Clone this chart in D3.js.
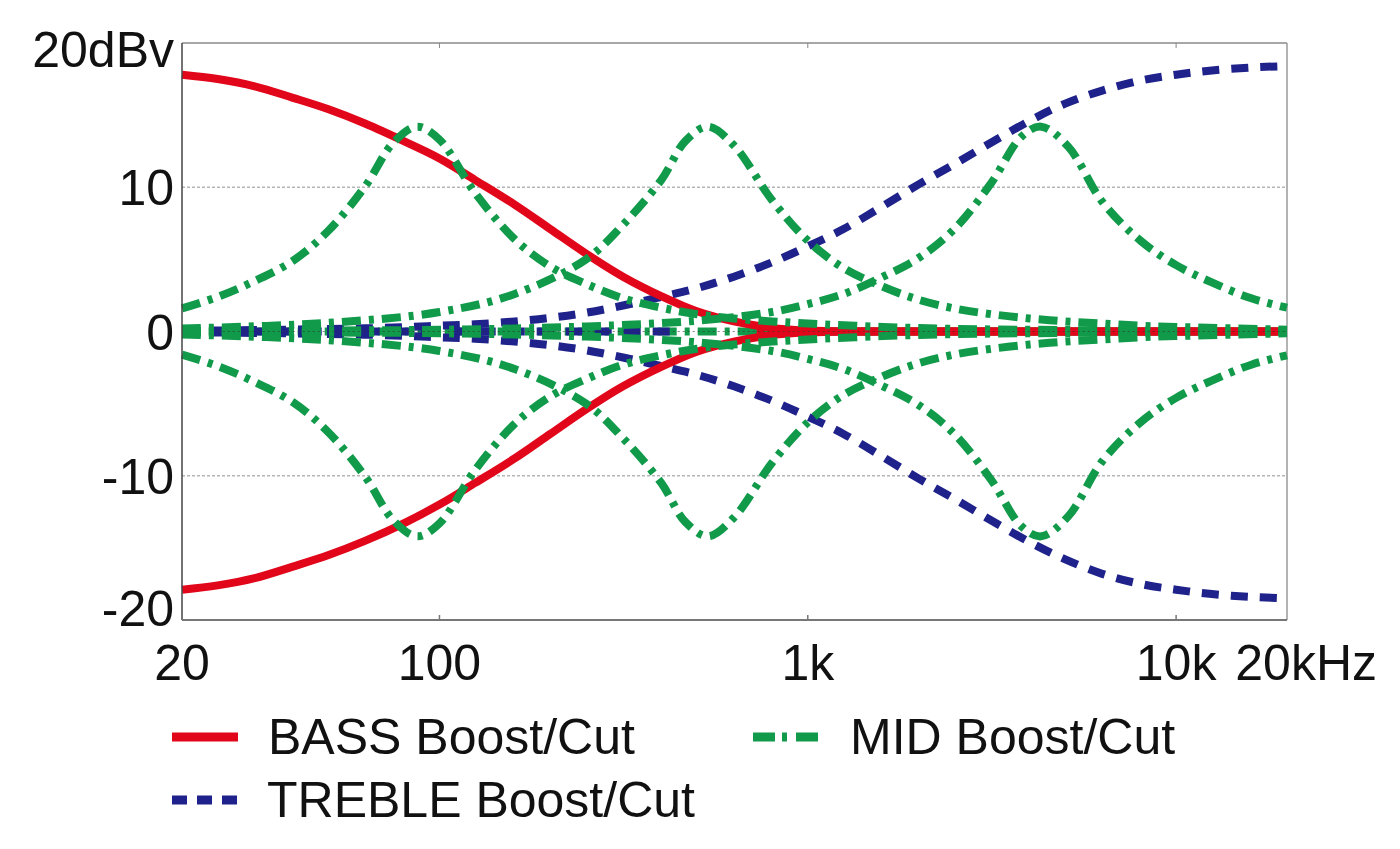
<!DOCTYPE html>
<html>
<head>
<meta charset="utf-8">
<script src="https://cdn.jsdelivr.net/npm/d3@7"></script>
<style>
  body { margin: 0; background: #fff; }
  text { font-family: "Liberation Sans", Arial, Helvetica, sans-serif; fill: #111; }
</style>
</head>
<body>
<div id="chart"></div>
<script>
// 1/3-octave grid used for BASS and TREBLE
const freqs = [20, 25, 31.5, 40, 50, 63, 80, 100, 125, 160, 200, 250, 315, 400, 500, 630, 800,
  1000, 1250, 1600, 2000, 2500, 3150, 4000, 5000, 6300, 8000, 10000, 12500, 16000, 20000];

const bassBoost = [17.8, 17.5, 17.0, 16.2, 15.4, 14.4, 13.2, 12.0, 10.5, 8.8, 7.1, 5.4, 3.8, 2.45, 1.4, 0.7, 0.25,
  0.07, 0, 0, 0, 0, 0, 0, 0, 0, 0, 0, 0, 0, 0];
const bassCut = [-17.9, -17.6, -17.1, -16.3, -15.5, -14.5, -13.3, -12.0, -10.5, -8.8, -7.1, -5.4, -3.8, -2.45, -1.4, -0.7, -0.25,
  -0.07, 0, 0, 0, 0, 0, 0, 0, 0, 0, 0, 0, 0, 0];

const trebleBoost = [0.05, 0.07, 0.1, 0.13, 0.17, 0.22, 0.3, 0.4, 0.5, 0.7, 0.95, 1.3, 1.8, 2.4, 3.0, 3.8, 4.8,
  5.9, 7.1, 8.7, 10.2, 11.6, 13.1, 14.6, 15.8, 16.7, 17.4, 17.8, 18.1, 18.3, 18.4];
const trebleCut = [-0.05, -0.07, -0.1, -0.13, -0.17, -0.22, -0.3, -0.4, -0.5, -0.7, -0.95, -1.3, -1.8, -2.4, -3.0, -3.8, -4.8,
  -5.9, -7.1, -8.7, -10.2, -11.6, -13.1, -14.6, -15.8, -16.8, -17.5, -17.9, -18.2, -18.4, -18.5];

// MID, three centre frequencies
const mid1Freqs = [20, 25, 31.5, 40, 50, 63, 75, 87, 100, 125, 160, 200, 250, 315, 400, 500, 630, 800, 1000, 1600, 2500, 4000, 6300, 10000, 20000];
const mid1Boost = [1.6, 2.4, 3.5, 4.9, 7.0, 10.1, 13.1, 14.2, 13.3, 9.6, 6.4, 4.5, 3.3, 2.3, 1.65, 1.2, 0.9, 0.7, 0.55, 0.32, 0.18, 0.12, 0.08, 0.05, 0.03];
const mid1Cut = [-1.6, -2.4, -3.5, -4.9, -7.0, -10.1, -13.1, -14.2, -13.3, -9.6, -6.4, -4.5, -3.3, -2.3, -1.65, -1.2, -0.9, -0.7, -0.55, -0.32, -0.18, -0.12, -0.08, -0.05, -0.03];

const mid2Freqs = [20, 50, 100, 160, 250, 315, 400, 465, 536, 630, 800, 1000, 1250, 1600, 2000, 2500, 3150, 4000, 5000, 6300, 8000, 10000, 20000];
const mid2Boost = [0.2, 0.6, 1.35, 2.6, 5.0, 7.4, 10.5, 13.2, 14.2, 12.9, 9.1, 6.3, 4.4, 3.1, 2.2, 1.6, 1.2, 0.9, 0.7, 0.55, 0.4, 0.32, 0.12];
const mid2Cut = [-0.2, -0.6, -1.35, -2.6, -5.0, -7.4, -10.5, -13.2, -14.2, -12.9, -9.1, -6.3, -4.4, -3.1, -2.2, -1.6, -1.2, -0.9, -0.7, -0.55, -0.4, -0.32, -0.12];

const mid3Freqs = [20, 100, 250, 500, 800, 1000, 1250, 1600, 2000, 2500, 3150, 3800, 4300, 5100, 6300, 8000, 10000, 12500, 16000, 20000];
const mid3Boost = [0.05, 0.12, 0.35, 0.75, 1.35, 1.9, 2.6, 3.8, 5.1, 7.1, 10.3, 13.5, 14.2, 12.8, 9.0, 6.3, 4.6, 3.4, 2.3, 1.65];
const mid3Cut = [-0.05, -0.12, -0.35, -0.75, -1.35, -1.9, -2.6, -3.8, -5.1, -7.1, -10.3, -13.5, -14.2, -12.8, -9.0, -6.3, -4.6, -3.4, -2.3, -1.65];

// flat (0 dB) settings, frequency spans where they show
const flatBlue = [25, 450];
const flatRed = [700, 20000];
const flatGreen = [25, 20000];

// ticks
const xTicks = [20, 100, 1000, 10000, 20000];
const xTickLabels = ["20", "100", "1k", "10k", "20kHz"];
const yTicks = [20, 10, 0, -10, -20];
const yTickLabels = ["20dBv", "10", "0", "-10", "-20"];
const gridValues = [10, -10];

const legendItems = ["BASS Boost/Cut", "MID Boost/Cut", "TREBLE Boost/Cut"];

// colours and strokes
const RED = "#e2061b", BLUE = "#1e228a", GREEN = "#109a4a";
const DASH = "17,12";
const DASHDOT = "19,8,5,8";
const LW = 8;
const FONT = "50px";

const W = 1400, H = 849;
const margin = { top: 43, right: 113, bottom: 229, left: 182 };
const width = W - margin.left - margin.right;
const height = H - margin.top - margin.bottom;

const root = d3.select("#chart").append("svg")
    .attr("width", W)
    .attr("height", H);

const svg = root.append("g")
    .attr("transform", `translate(${margin.left},${margin.top})`);

const x = d3.scaleLog().domain([20, 20000]).range([0, width]);
const y = d3.scaleLinear().domain([-20, 20]).range([height, 0]);

const line = d3.line()
    .x(d => x(d[0]))
    .y(d => y(d[1]))
    .curve(d3.curveCatmullRom.alpha(0.5));

const pairs = (fs, vs) => fs.map((f, i) => [f, vs[i]]);

// grid lines
svg.selectAll(".grid")
    .data(gridValues)
    .enter().append("line")
    .attr("x1", 0).attr("x2", width)
    .attr("y1", d => y(d)).attr("y2", d => y(d))
    .attr("stroke", "#b5b5b5")
    .attr("stroke-width", 1.5)
    .attr("stroke-dasharray", "3,2");

// frame
svg.append("line").attr("x1", 0).attr("x2", width).attr("y1", 0).attr("y2", 0)
    .attr("stroke", "#8a8a8a").attr("stroke-width", 1.5);
svg.append("line").attr("x1", width).attr("x2", width).attr("y1", 0).attr("y2", height)
    .attr("stroke", "#9a9a9a").attr("stroke-width", 1.5);

// small ticks inside the frame
const inner = [100, 1000, 10000];
svg.selectAll(".tb").data(inner).enter().append("line")
    .attr("x1", d => x(d)).attr("x2", d => x(d))
    .attr("y1", height).attr("y2", height - 5)
    .attr("stroke", "#777").attr("stroke-width", 1.5);
svg.selectAll(".tt").data(inner).enter().append("line")
    .attr("x1", d => x(d)).attr("x2", d => x(d))
    .attr("y1", 0).attr("y2", 5)
    .attr("stroke", "#888").attr("stroke-width", 1);

// flat curves at 0 dB
svg.append("path")
    .datum(flatRed.map(f => [f, 0]))
    .attr("d", line).attr("fill", "none")
    .attr("stroke", RED).attr("stroke-width", LW);
svg.append("path")
    .datum(flatGreen.map(f => [f, 0]))
    .attr("d", line).attr("fill", "none")
    .attr("stroke", GREEN).attr("stroke-width", LW)
    .attr("stroke-dasharray", DASHDOT);
svg.append("path")
    .datum(flatBlue.map(f => [f, 0]))
    .attr("d", line).attr("fill", "none")
    .attr("stroke", BLUE).attr("stroke-width", LW)
    .attr("stroke-dasharray", DASH);

// treble
[trebleBoost, trebleCut].forEach(vs => {
  svg.append("path")
      .datum(pairs(freqs, vs))
      .attr("d", line).attr("fill", "none")
      .attr("stroke", BLUE).attr("stroke-width", LW)
      .attr("stroke-dasharray", DASH);
});

// bass
[bassBoost, bassCut].forEach(vs => {
  svg.append("path")
      .datum(pairs(freqs, vs))
      .attr("d", line).attr("fill", "none")
      .attr("stroke", RED).attr("stroke-width", LW);
});

// mid
const mids = [
  [mid1Freqs, mid1Boost], [mid1Freqs, mid1Cut],
  [mid2Freqs, mid2Boost], [mid2Freqs, mid2Cut],
  [mid3Freqs, mid3Boost], [mid3Freqs, mid3Cut]
];
mids.forEach(m => {
  svg.append("path")
      .datum(pairs(m[0], m[1]))
      .attr("d", line).attr("fill", "none")
      .attr("stroke", GREEN).attr("stroke-width", LW)
      .attr("stroke-dasharray", DASHDOT);
});

// thin dotted zero line on top
svg.append("line")
    .attr("x1", x(25)).attr("x2", width)
    .attr("y1", y(0)).attr("y2", y(0))
    .attr("stroke", "#333").attr("stroke-width", 1)
    .attr("stroke-dasharray", "2,3")
    .attr("opacity", 0.6);

// axes lines
svg.append("line").attr("x1", 0).attr("x2", 0).attr("y1", 0).attr("y2", height)
    .attr("stroke", "#444").attr("stroke-width", 1.5);
svg.append("line").attr("x1", 0).attr("x2", width).attr("y1", height).attr("y2", height)
    .attr("stroke", "#777").attr("stroke-width", 2);

// tick labels
svg.selectAll(".ylab")
    .data(yTicks)
    .enter().append("text")
    .attr("x", -8)
    .attr("y", d => Math.max(6, Math.min(height - 12, y(d))))
    .attr("dy", "0.36em")
    .attr("text-anchor", "end")
    .style("font-size", FONT)
    .text((d, i) => yTickLabels[i]);

const lastX = xTicks.length - 1;
svg.selectAll(".xlab")
    .data(xTicks)
    .enter().append("text")
    .attr("x", (d, i) => i === lastX ? width + 90 : x(d))
    .attr("y", height + 60)
    .attr("text-anchor", (d, i) => i === lastX ? "end" : "middle")
    .style("font-size", FONT)
    .text((d, i) => xTickLabels[i]);

// legend
const legend = root.append("g");
const legendPos = [[172, 737], [753, 737], [172, 800]];
const legendStyle = [
  { color: RED, dash: null, len: 66 },
  { color: GREEN, dash: "22,7,5,9", len: 67 },
  { color: BLUE, dash: "15,10", len: 65 }
];
legendItems.forEach((name, i) => {
  const [lx, ly] = legendPos[i];
  const st = legendStyle[i];
  legend.append("line")
      .attr("x1", lx).attr("x2", lx + st.len)
      .attr("y1", ly).attr("y2", ly)
      .attr("stroke", st.color).attr("stroke-width", 9)
      .attr("stroke-dasharray", st.dash);
  legend.append("text")
      .attr("x", lx + st.len + 30)
      .attr("y", ly + 17)
      .style("font-size", FONT)
      .text(name);
});
</script>
</body>
</html>
